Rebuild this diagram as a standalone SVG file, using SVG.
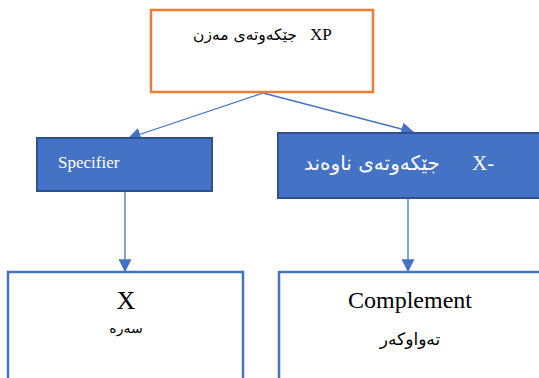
<svg xmlns="http://www.w3.org/2000/svg" width="539" height="378" viewBox="0 0 539 378">
<style>
.lat{font-family:"Liberation Serif","DejaVu Serif",serif;fill:#000}
.ar{font-family:"DejaVu Sans","Noto Sans",sans-serif;fill:#000}
.wt{fill:#fff}
.blue{fill:#4472C4;stroke:#2F528F;stroke-width:2}
.out{fill:#fff;stroke:#4472C4;stroke-width:2.5}
.con{stroke:#4472C4;stroke-width:1.3;fill:none;marker-end:url(#ah)}
</style>
<defs>
<marker id="ah" viewBox="0 0 10 10" refX="9" refY="5" markerWidth="13" markerHeight="13" markerUnits="userSpaceOnUse" orient="auto">
<path d="M0,0 L10,5 L0,10 Z" fill="#4472C4"/>
</marker>
</defs>
<rect width="539" height="378" fill="#fff"/>
<g id="connectors">
<path class="con" d="M263,93 L129,138"/>
<path class="con" d="M263,93 L413,132"/>
<path class="con" d="M125,191 L125,271"/>
<path class="con" d="M408,198 L408,271"/>
</g>
<g id="node-xp">
<rect x="151" y="10" width="222" height="82" fill="#fff" stroke="#ED7D31" stroke-width="2.5"/>
<text class="ar" x="245" y="40" font-size="15.5" text-anchor="middle" direction="rtl">جێکەوتەی مەزن</text>
<text class="lat" x="310" y="40" font-size="17">XP</text>
</g>
<g id="node-specifier">
<rect class="blue" x="37" y="138" width="175" height="53"/>
<text class="lat wt" x="58" y="168" font-size="17">Specifier</text>
</g>
<g id="node-xbar">
<rect class="blue" x="278" y="133" width="263" height="65"/>
<text class="ar wt" x="372" y="170" font-size="20" text-anchor="middle" direction="rtl">جێکەوتەی ناوەند</text>
<text class="lat wt" x="472" y="170" font-size="21">X-</text>
</g>
<g id="node-head">
<rect class="out" x="8" y="272" width="235" height="110"/>
<text class="lat" x="126" y="309" font-size="26" text-anchor="middle">X</text>
<text class="ar" x="126" y="333" font-size="14" text-anchor="middle" direction="rtl">سەرە</text>
</g>
<g id="node-complement">
<rect class="out" x="279" y="272" width="265" height="110"/>
<text class="lat" x="410" y="308" font-size="24" text-anchor="middle">Complement</text>
<text class="ar" x="410" y="345" font-size="17" text-anchor="middle" direction="rtl">تەواوکەر</text>
</g>
</svg>
